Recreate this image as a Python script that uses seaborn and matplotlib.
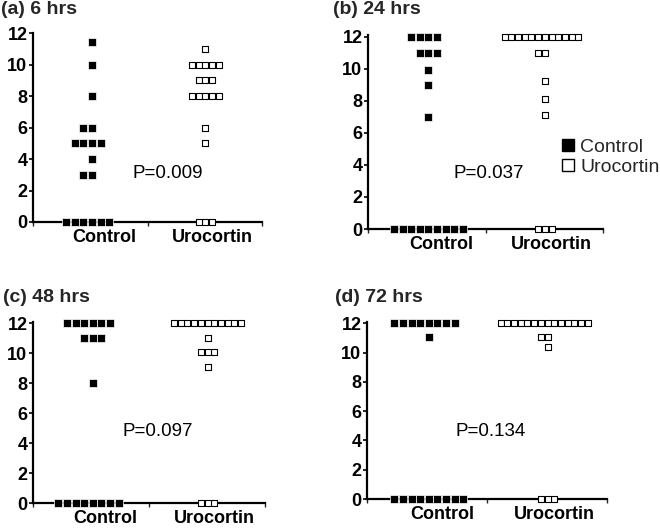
import numpy as np
import pandas as pd
import matplotlib
matplotlib.use("Agg")
import matplotlib.pyplot as plt
from matplotlib.lines import Line2D
import seaborn as sns

sns.set_style("white")
plt.rcParams['font.family'] = ['Liberation Sans', 'DejaVu Sans']

# ---------------- data ----------------
categories = ["Control", "Urocortin"]
panel_titles = ["(a) 6 hrs", "(b) 24 hrs", "(c) 48 hrs", "(d) 72 hrs"]
p_values = ["P=0.009", "P=0.037", "P=0.097", "P=0.134"]

a_control = [11.4, 10, 8, 6, 6, 5, 5, 5, 5, 4, 3, 3, 0, 0, 0, 0, 0, 0]
a_urocortin = [11, 10, 10, 10, 10, 10, 9, 9, 9, 8, 8, 8, 8, 8, 6, 5, 0, 0, 0]

b_control = [12, 12, 12, 12, 11, 11, 11, 9.9, 9, 7, 0, 0, 0, 0, 0, 0, 0, 0, 0]
b_urocortin = [12, 12, 12, 12, 12, 12, 12, 12, 12, 12, 12, 12, 11, 11, 9.2, 8.1, 7.1, 0, 0, 0]

c_control = [12, 12, 12, 12, 12, 12, 11, 11, 11, 8, 0, 0, 0, 0, 0, 0, 0, 0]
c_urocortin = [12, 12, 12, 12, 12, 12, 12, 12, 12, 12, 12, 11, 10.1, 10.1, 10.1, 9.1, 0, 0, 0]

d_control = [12, 12, 12, 12, 12, 12, 12, 12, 11.1, 0, 0, 0, 0, 0, 0, 0, 0, 0]
d_urocortin = [12, 12, 12, 12, 12, 12, 12, 12, 12, 12, 12, 12, 12, 12, 11.1, 11.1, 10.4, 0, 0, 0]

panel_data = [(a_control, a_urocortin), (b_control, b_urocortin),
              (c_control, c_urocortin), (d_control, d_urocortin)]
y_ticks = [0, 2, 4, 6, 8, 10, 12]

# ---------------- layout (pixels) ----------------
W, H = 660, 530
fig = plt.figure(figsize=(W / 100, H / 100), dpi=100)

# left, right, top, bottom in pixels; ylim top
boxes = [(33, 262, 33, 222, 12.0),
         (368, 603, 35, 229, 12.1),
         (33, 265, 322, 503, 12.1),
         (367, 607, 322, 499, 12.1)]
title_pos = [(1, 10), (333, 10), (3, 298), (335, 298)]
p_pos = [(168, 173), (489, 174), (158, 432), (491, 432)]

XL = (-0.52, 1.5)

for i, ((ctrl, uro), (l, r, t, b, ytop)) in enumerate(zip(panel_data, boxes)):
    ax = fig.add_axes([l / W, 1 - b / H, (r - l) / W, (b - t) / H])
    df_c = pd.DataFrame({"group": "Control", "value": ctrl})
    df_u = pd.DataFrame({"group": "Urocortin", "value": uro})
    sns.swarmplot(data=df_c, x="group", y="value", order=categories, ax=ax,
                  marker="s", size=5.4, color="black", edgecolor="white",
                  linewidth=0.5)
    sns.swarmplot(data=df_u, x="group", y="value", order=categories, ax=ax,
                  marker="s", size=3.8, color="white", edgecolor="black",
                  linewidth=0.8)
    for coll in ax.collections:
        coll.set_clip_on(False)
        coll.set_zorder(3)
    ax.set_xlim(*XL)
    ax.set_ylim(0, ytop)
    ax.set_xlabel("")
    ax.set_ylabel("")
    for s in ["top", "right"]:
        ax.spines[s].set_visible(False)
    for s in ["left", "bottom"]:
        ax.spines[s].set_linewidth(1.6)
        ax.spines[s].set_color("black")
    ax.set_yticks(y_ticks)
    ax.set_yticklabels([str(v) for v in y_ticks], fontsize=13, fontweight="bold")
    ax.set_xticks([0.11, 1.06])
    ax.set_xticklabels(categories, fontsize=13, fontweight="bold")
    ax.set_xticks([XL[0], (XL[0] + XL[1]) / 2, XL[1]], minor=True)
    ax.tick_params(axis="y", which="major", direction="out", length=3,
                   width=1.2, pad=1, left=True, colors="black")
    ax.tick_params(axis="x", which="major", length=0, pad=5, colors="black")
    ax.tick_params(axis="x", which="minor", direction="out", length=3,
                   width=1.0, bottom=True)
    ax.set_facecolor("none")

    tx, ty = title_pos[i]
    fig.text(tx / W, 1 - ty / H, panel_titles[i], fontsize=14,
             fontweight="bold", ha="left", va="center")
    px, py = p_pos[i]
    fig.text(px / W, 1 - py / H, p_values[i], fontsize=13.5,
             ha="center", va="center", color="black")

    if i == 1:
        handles = [Line2D([], [], marker="s", linestyle="none", color="black",
                          markersize=8.5),
                   Line2D([], [], marker="s", linestyle="none",
                          markerfacecolor="white", markeredgecolor="black",
                          markeredgewidth=1.0, markersize=8.5)]
        ax.legend(handles, categories, loc="center left",
                  bbox_to_anchor=(561 / W, 1 - 157 / H),
                  bbox_transform=fig.transFigure, frameon=False,
                  fontsize=14, handlelength=0.7, handletextpad=0.3,
                  labelspacing=0.1, borderpad=0, borderaxespad=0)

fig.savefig("out.png", dpi=100, facecolor="white")
